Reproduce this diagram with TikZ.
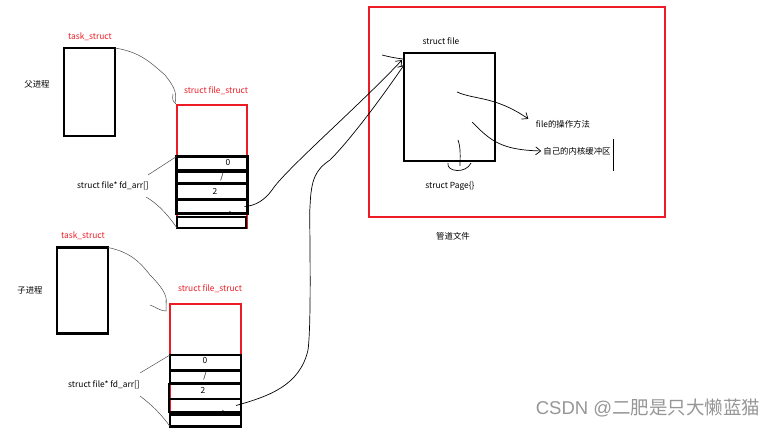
\documentclass[tikz,border=0pt]{standalone}
\usepackage{fontspec}
\setmainfont{Noto Sans CJK SC}
\newfontfamily\wmfont{Liberation Sans}
\usetikzlibrary{arrows.meta}
\definecolor{myred}{RGB}{237,28,36}
\definecolor{wmgray}{RGB}{150,150,150}
\tikzset{
  blk/.style={draw=black, line width=2.4pt, inner sep=0pt, outer sep=0pt},
  redbox/.style={draw=myred, line width=2pt, inner sep=0pt, outer sep=0pt},
  rowbox/.style={draw=black, line width=2.4pt, inner sep=0pt, outer sep=0pt, minimum width=71pt},
  lbl/.style={font=\fontsize{8.4}{9}\selectfont, inner sep=0pt},
  redlbl/.style={lbl, text=myred},
  hand/.style={line width=0.7pt, black},
  thin/.style={line width=0.5pt, black!70},
  tip/.style={-{Straight Barb[length=5pt,width=8pt]}}
}
\begin{document}
\begin{tikzpicture}[x=1pt,y=-1pt]
\useasboundingbox[fill=white] (0,0) rectangle (777,428);

% ---------- parent process ----------
\node[redlbl] (ptl) at (90,37) {task\_struct};
\node[blk, minimum width=51pt, minimum height=88pt] (ptask) at (89.5,92) {};
\node[lbl] (pname) at (37,84) {父进程};
\node[redlbl] (pfl) at (216,91) {struct file\_struct};
\node[redbox, minimum width=70pt, minimum height=123pt] (pfs) at (212,166.5) {};
\node[rowbox, minimum height=14pt] (pr0) at (212,163.5) {};
\node[rowbox, minimum height=12pt] (pr1) at (212,177.5) {};
\node[rowbox, minimum height=15pt] (pr2) at (212,191.5) {};
\node[rowbox, minimum height=14pt] (pr3) at (212,206.5) {};
\node[rowbox, minimum height=11pt, minimum width=69pt] (pr4) at (211.5,222.5) {};
\node[lbl] at (228,163) {0};
\node[lbl] at (222,177) {/};
\node[lbl] at (215,191) {2};
\node[lbl] at (230,212) {.};
\node[lbl] (pfd) at (113,186) {struct file* fd\_arr[]};
\coordinate (pfda) at (148,175);
\coordinate (pfdb) at (146,197);
\draw[thin] (pfda) -- (pr0.north west);
\draw[thin] (pfdb) .. controls (160,205) and (170,218) .. (pr4.south west);
\draw[thin] (ptask.north east) .. controls (140,52) and (150,62) .. (165,75)
  .. controls (172,84) and (178,92) .. (175,103);
\draw[thin] (173,94) .. controls (172,99) and (173,102) .. (176,104);

% ---------- child process ----------
\node[redlbl] (ctl) at (83,236) {task\_struct};
\node[blk, minimum width=51pt, minimum height=86pt] (ctask) at (82.5,290.5) {};
\node[lbl] (cname) at (30,290) {子进程};
\node[redlbl] (cfl) at (210,289) {struct file\_struct};
\node[redbox, minimum width=71pt, minimum height=124pt] (cfs) at (205.5,366) {};
\node[rowbox, minimum height=15pt] (cr0) at (205.5,362.5) {};
\node[rowbox, minimum height=12pt] (cr1) at (205.5,377) {};
\node[rowbox, minimum height=15pt, minimum width=72pt] (cr2) at (205,391.5) {};
\node[rowbox, minimum height=13pt, minimum width=72pt] (cr3) at (205,405.5) {};
\node[rowbox, minimum height=12pt] (cr4) at (205.5,420.5) {};
\node[lbl] at (205,361) {0};
\node[lbl] at (205,376) {/};
\node[lbl] at (203,390) {2};
\node[lbl] at (223,411) {.};
\node[lbl] (cfd) at (104,385) {struct file* fd\_arr[]};
\coordinate (cfda) at (140,373);
\coordinate (cfdb) at (140,396);
\draw[thin] (cfda) -- (cr0.north west);
\draw[thin] (cfdb) .. controls (152,405) and (162,415) .. (cr4.south west);
\draw[thin] (ctask.north east) .. controls (130,252) and (140,262) .. (150,275)
  .. controls (160,285) and (168,295) .. (166,303);
\draw[thin] (150,305) .. controls (156,307) and (160,311) .. (166,311) -- (166,300);

% ---------- pipe file ----------
\node[redbox, minimum width=296pt, minimum height=210pt] (pipe) at (517,112) {};
\node[lbl] (sfl) at (441,41) {struct file};
\node[blk, minimum width=91pt, minimum height=108pt] (sfile) at (449.5,107) {};
\node[lbl] (ops) at (563,124) {file的操作方法};
\node[lbl] (buf) at (577,151) {自己的内核缓冲区};
\coordinate (bar1) at (613,139);
\coordinate (bar2) at (613,171);
\draw[line width=0.9pt] (bar1) -- (bar2);
\node[lbl] (page) at (450,186) {struct Page\{\}};
\node[lbl] (pipel) at (453,236) {管道文件};

\draw[hand, tip, shorten >=9pt] (457,92) .. controls (475,100) and (495,96) .. (ops.west);
\draw[hand, tip, shorten >=2pt] (472,122) .. controls (490,140) and (500,150) .. (buf.west);
\draw[hand] (458,140) .. controls (461,148) and (460,158) .. (460,166);
\draw[hand] (448,163) .. controls (446,172) and (466,174) .. (471,163);

% ---------- fd -> struct file ----------
\draw[hand, tip] ([xshift=-3pt]pr3.east) .. controls (255,206) and (265,200) .. (272,190)
  .. controls (285,170) and (360,105) .. ([shift={(-2,7)}]sfile.north west);
\draw[hand, tip] ([xshift=-5pt]cr3.east) .. controls (270,396) and (300,385) .. (308,350)
  .. controls (312,320) and (309,210) .. (310,207)
  .. controls (311,180) and (315,170) .. (330,160)
  .. controls (350,140) and (380,100) .. ([shift={(0,12)}]sfile.north west);
\draw[hand] (382,55) .. controls (390,57) and (395,58) .. ([shift={(-1,6)}]sfile.north west);

% ---------- watermark ----------
\node[inner sep=0pt, text=wmgray, font=\fontsize{18.5}{20}\selectfont] (wm) at (648,408) {{\wmfont CSDN @}二肥是只大懒蓝猫};
\end{tikzpicture}
\end{document}
